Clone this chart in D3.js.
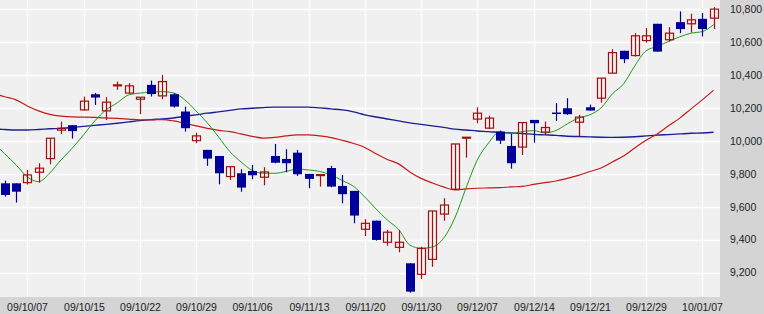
<!DOCTYPE html>
<html>
<head>
<meta charset="utf-8">
<script src="https://cdn.jsdelivr.net/npm/d3@7"></script>
<style>
html,body{margin:0;padding:0;background:#ffffff;}
svg{display:block;}
</style>
</head>
<body>
<svg id="chart" width="764" height="314"></svg>
<script>
// ---- data (Nikkei 225 daily) ----
const dates = ["09/10/05","09/10/06","09/10/07","09/10/08","09/10/09","09/10/13","09/10/14","09/10/15","09/10/16","09/10/19",
"09/10/20","09/10/21","09/10/22","09/10/23","09/10/26","09/10/27","09/10/28","09/10/29","09/10/30","09/11/02",
"09/11/04","09/11/05","09/11/06","09/11/09","09/11/10","09/11/11","09/11/12","09/11/13","09/11/16","09/11/17",
"09/11/18","09/11/19","09/11/20","09/11/24","09/11/25","09/11/26","09/11/27","09/11/30","09/12/01","09/12/02",
"09/12/03","09/12/04","09/12/07","09/12/08","09/12/09","09/12/10","09/12/11","09/12/14","09/12/15","09/12/16",
"09/12/17","09/12/18","09/12/21","09/12/22","09/12/24","09/12/25","09/12/28","09/12/29","09/12/30","10/01/04",
"10/01/05","10/01/06","10/01/07","10/01/08"];
const openV  = [9743,9743,9747,9810,9893,10066,10096,10189,10284,10183,10337,10291,10254,10341,10274,10284,10179,10002,9946,9909,
9784,9804,9818,9780,9909,9891,9929,9800,9792,9836,9727,9697,9464,9516,9385,9354,9257,9190,9281,9556,
9707,10017,10133,10078,10057,9970,9963,10128,10054,10173,10199,10114,10205,10260,10412,10548,10519,10610,10712,10615,
10722,10712,10742,10746];
const highV  = [9759,9743,9824,9865,10017,10118,10096,10270,10292,10266,10361,10351,10266,10367,10402,10290,10209,10051,9946,9909,
9849,9829,9855,9841,9982,9950,9946,9800,9796,9849,9794,9697,9525,9516,9460,9460,9257,9358,9575,9652,
9982,10023,10205,10153,10063,10043,10112,10128,10118,10230,10260,10159,10221,10382,10558,10548,10655,10686,10712,10692,
10787,10773,10777,10813];
const lowV   = [9662,9626,9735,9747,9859,10043,10015,10185,10219,10128,10311,10291,10163,10270,10254,10203,10057,9987,9849,9737,
9763,9692,9768,9731,9865,9810,9788,9713,9723,9719,9622,9500,9423,9395,9364,9324,9079,9162,9236,9516,
9707,9899,10108,10073,9982,9832,9915,9990,10037,10122,10159,10023,10185,10233,10412,10473,10513,10598,10543,10604,
10655,10659,10635,10680];
const closeV = [9672,9692,9794,9835,10017,10078,10060,10242,10264,10236,10341,10335,10266,10285,10361,10209,10078,10031,9893,9804,
9844,9717,9792,9812,9868,9865,9798,9770,9796,9723,9677,9547,9500,9399,9446,9385,9085,9348,9575,9611,
9982,10023,10169,10139,10002,9865,10112,10108,10082,10169,10163,10145,10185,10382,10537,10497,10639,10639,10543,10655,
10680,10736,10680,10801];
const ma5  = [9922,9855,9782,9753,9806,9885,9957,10037,10122,10189,10232,10280,10291,10297,10300,10292,10250,10183,10110,10025,
9936,9873,9821,9804,9804,9815,9829,9824,9815,9794,9760,9724,9660,9587,9520,9463,9368,9348,9356,9409,
9532,9715,9885,9988,10057,10046,10057,10063,10049,10064,10104,10140,10159,10201,10286,10347,10457,10548,10574,10605,
10633,10655,10665,10706];
const ma25 = [10269,10250,10213,10183,10162,10151,10146,10145,10143,10140,10137,10133,10128,10128,10130,10122,10107,10092,10077,10064,
10057,10043,10028,10018,10022,10031,10037,10037,10031,10021,10004,9985,9961,9922,9888,9861,9812,9773,9745,9721,
9703,9709,9713,9715,9717,9721,9724,9736,9747,9757,9773,9791,9815,9836,9873,9909,9958,10004,10043,10092,
10139,10195,10250,10308];
const ma75 = [10070,10067,10067,10070,10074,10077,10083,10089,10095,10101,10108,10116,10124,10130,10134,10140,10150,10159,10169,10177,
10186,10195,10199,10203,10206,10206,10206,10206,10201,10195,10189,10177,10159,10146,10134,10122,10110,10101,10092,10083,
10072,10067,10061,10057,10052,10049,10046,10040,10037,10034,10029,10027,10025,10023,10022,10023,10026,10031,10036,10039,
10043,10047,10049,10053];
const yTicks = [9200,9400,9600,9800,10000,10200,10400,10600,10800];
const xTickLabels = ["09/10/07","09/10/15","09/10/22","09/10/29","09/11/06","09/11/13","09/11/20","09/11/30","09/12/07","09/12/14","09/12/21","09/12/29","10/01/07"];

// ---- drawing ----
const W = 764, H = 314;
const plotRight = 720, plotBottom = 297;
const svg = d3.select("#chart");

svg.append("rect").attr("x",0).attr("y",0).attr("width",W).attr("height",H).attr("fill","#d4d4d4");
svg.append("rect").attr("x",0).attr("y",0).attr("width",plotRight).attr("height",plotBottom).attr("fill","#f0f0f0");

const x = d3.scaleLinear().domain([0, dates.length-1]).range([4.8, 713.55]);
const y = d3.scaleLinear().domain([9200, 10800]).range([272.7, 9.3]);
const px = i => Math.round(x(i));

const plot = svg.append("g");
plot.append("clipPath").attr("id","clip").append("rect")
  .attr("x",0).attr("y",0).attr("width",plotRight).attr("height",plotBottom);
const g = plot.append("g").attr("clip-path","url(#clip)");

// gridlines
g.selectAll("line.hg").data(yTicks).enter().append("line")
  .attr("x1",0).attr("x2",plotRight)
  .attr("y1",d=>Math.round(y(d))+0.5).attr("y2",d=>Math.round(y(d))+0.5)
  .attr("stroke","#ffffff").attr("stroke-width",1.3);
g.selectAll("line.vg").data(xTickLabels).enter().append("line")
  .attr("x1",d=>px(dates.indexOf(d))+0.5).attr("x2",d=>px(dates.indexOf(d))+0.5)
  .attr("y1",0).attr("y2",plotBottom)
  .attr("stroke","#ffffff").attr("stroke-width",1.3);

// moving averages
function maLine(arr, color, w){
  const line = d3.line().x((d,i)=>x(i)).y(d=>y(d)).curve(d3.curveMonotoneX);
  g.append("path").datum(arr).attr("d", line)
    .attr("fill","none").attr("stroke",color).attr("stroke-width",w);
}
// extend lines to left edge by drawing from x(0) - handled by clip; add small lead segment
function maLineExt(arr, color, w){
  const pts = arr.map((d,i)=>[x(i), y(d)]);
  const slope = (pts[1][1]-pts[0][1])/(pts[1][0]-pts[0][0]);
  pts.unshift([0, pts[0][1] - slope*pts[0][0]]);
  const line = d3.line().curve(d3.curveMonotoneX);
  g.append("path").datum(pts).attr("d", line)
    .attr("fill","none").attr("stroke",color).attr("stroke-width",w);
}
maLineExt(ma75, "#1c1c96", 1.4);
maLineExt(ma25, "#c41a1a", 1.2);
maLineExt(ma5, "#1e9a1e", 1);

// candles
const idx = d3.range(dates.length);
const up = i => closeV[i] >= openV[i];
const cg = g.append("g");
cg.selectAll("line.wick").data(idx).enter().append("line")
  .attr("x1",i=>px(i)+0.5).attr("x2",i=>px(i)+0.5)
  .attr("y1",i=>y(highV[i])).attr("y2",i=>y(lowV[i]))
  .attr("stroke",i=>up(i)?"#a01010":"#00009a").attr("stroke-width",1.2);
cg.selectAll("rect.body").data(idx).enter().append("rect")
  .attr("x",i=> up(i) ? px(i)-3.5 : px(i)-4)
  .attr("y",i=>Math.min(y(openV[i]),y(closeV[i])))
  .attr("width",i=> up(i) ? 8 : 9)
  .attr("height",i=>Math.max(Math.abs(y(openV[i])-y(closeV[i])), up(i)?1:1.5))
  .attr("fill",i=>up(i)?"none":"#00009a")
  .attr("stroke",i=>up(i)?"#a01010":"none")
  .attr("stroke-width",1.2);

// y axis labels
svg.selectAll("text.yl").data(yTicks).enter().append("text")
  .attr("x",730).attr("y",d=>y(d)).attr("dy","0.35em")
  .attr("font-family","Liberation Sans, Arial, sans-serif").attr("font-size",10.5)
  .attr("fill","#222")
  .text(d=>d3.format(",")(d));

// x axis labels
svg.selectAll("text.xl").data(xTickLabels).enter().append("text")
  .attr("x",d=>px(dates.indexOf(d))+0.5).attr("y",307).attr("dy","0.35em")
  .attr("text-anchor","middle")
  .attr("font-family","Liberation Sans, Arial, sans-serif").attr("font-size",10.5)
  .attr("fill","#222")
  .text(d=>d);
</script>
</body>
</html>
